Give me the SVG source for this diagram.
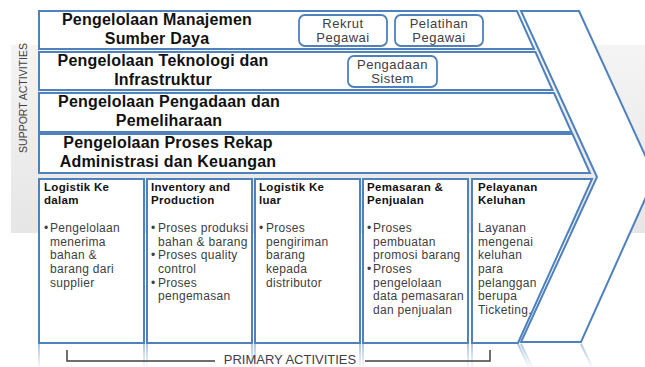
<svg xmlns="http://www.w3.org/2000/svg" width="645" height="367" viewBox="0 0 645 367">
<defs>
<linearGradient id="bg" x1="0" y1="0" x2="0" y2="1">
<stop offset="0" stop-color="#f4f4f4"/>
<stop offset="1" stop-color="#e6e6e6"/>
</linearGradient>
<linearGradient id="refl" x1="0" y1="0" x2="0" y2="1">
<stop offset="0" stop-color="#4f81bd" stop-opacity="0.45"/>
<stop offset="1" stop-color="#4f81bd" stop-opacity="0.05"/>
</linearGradient>
<style>
.box{fill:#fff;stroke:#4f81bd;stroke-width:2}
.rbox{fill:#fff;stroke:#4f81bd;stroke-width:1.8}
.hd{font-family:"Liberation Sans",Arial,sans-serif;font-weight:bold;font-size:16px;letter-spacing:0.2px;fill:#111;text-anchor:middle}
.sm{font-family:"Liberation Sans",Arial,sans-serif;font-size:13px;letter-spacing:0.5px;fill:#404040;text-anchor:middle}
.ti{font-family:"Liberation Sans",Arial,sans-serif;font-weight:bold;font-size:11.5px;letter-spacing:0.3px;fill:#111}
.tx{font-family:"Liberation Sans",Arial,sans-serif;font-size:12px;letter-spacing:0.3px;fill:#404040}
.lbl{font-family:"Liberation Sans",Arial,sans-serif;font-size:13px;fill:#404040}
.vlbl{font-family:"Liberation Sans",Arial,sans-serif;font-size:10.5px;fill:#404040;text-anchor:middle}
.refl{fill:none;stroke:url(#refl);stroke-width:2}
</style>
</defs>
<rect width="645" height="367" fill="#fff"/>
<rect x="11" y="45" width="634" height="188" fill="url(#bg)"/>

<text class="vlbl" transform="translate(27,98) rotate(-90)">SUPPORT ACTIVITIES</text>

<g id="chevron-right">
<polygon points="521,11 579,11 655,177 581,342 521,342 597,177" fill="#fff" stroke="#4f81bd" stroke-width="2"/>
</g>

<g id="row-sdm">
<polygon class="box" points="39,11 517,11 534,49 39,49"/>
<text class="hd" x="157" y="25">Pengelolaan Manajemen</text>
<text class="hd" x="157" y="44">Sumber Daya</text>
</g>
<g id="rekrut">
<rect class="rbox" x="299" y="15" width="88" height="31" rx="6"/>
<text class="sm" x="343" y="28">Rekrut</text>
<text class="sm" x="343" y="42">Pegawai</text>
</g>
<g id="pelatihan">
<rect class="rbox" x="395" y="15" width="88" height="31" rx="6"/>
<text class="sm" x="439" y="28">Pelatihan</text>
<text class="sm" x="439" y="42">Pegawai</text>
</g>

<g id="row-teknologi">
<polygon class="box" points="39,52 535.5,52 552.5,90 39,90"/>
<text class="hd" x="163" y="66">Pengelolaan Teknologi dan</text>
<text class="hd" x="163" y="85">Infrastruktur</text>
</g>
<g id="pengadaan-sistem">
<rect class="rbox" x="348" y="56" width="89" height="31" rx="6"/>
<text class="sm" x="392.5" y="69">Pengadaan</text>
<text class="sm" x="392.5" y="83">Sistem</text>
</g>

<g id="row-pengadaan">
<polygon class="box" points="39,93 554,93 571.5,132 39,132"/>
<text class="hd" x="169" y="107">Pengelolaan Pengadaan dan</text>
<text class="hd" x="169" y="126">Pemeliharaan</text>
</g>

<g id="row-administrasi">
<polygon class="box" points="39,134 572.5,134 590,173 39,173"/>
<text class="hd" x="168" y="148">Pengelolaan Proses Rekap</text>
<text class="hd" x="168" y="167">Administrasi dan Keuangan</text>
</g>

<g id="logistik-dalam">
<rect class="box" x="39" y="179" width="105" height="164"/>
<text class="ti" x="44" y="191">Logistik Ke</text>
<text class="ti" x="44" y="204">dalam</text>
<text class="tx" x="44" y="232">•</text>
<text class="tx" x="50" y="232">Pengelolaan</text>
<text class="tx" x="50" y="245.7">menerima</text>
<text class="tx" x="50" y="259.3">bahan &amp;</text>
<text class="tx" x="50" y="273">barang dari</text>
<text class="tx" x="50" y="286.7">supplier</text>
</g>

<g id="inventory-production">
<rect class="box" x="147" y="179" width="105" height="164"/>
<text class="ti" x="151" y="191">Inventory and</text>
<text class="ti" x="151" y="204">Production</text>
<text class="tx" x="151" y="232">•</text>
<text class="tx" x="158" y="232">Proses produksi</text>
<text class="tx" x="158" y="245.7">bahan &amp; barang</text>
<text class="tx" x="151" y="259.3">•</text>
<text class="tx" x="158" y="259.3">Proses quality</text>
<text class="tx" x="158" y="273">control</text>
<text class="tx" x="151" y="286.7">•</text>
<text class="tx" x="158" y="286.7">Proses</text>
<text class="tx" x="158" y="300.3">pengemasan</text>
</g>

<g id="logistik-luar">
<rect class="box" x="255" y="179" width="105" height="164"/>
<text class="ti" x="259" y="191">Logistik Ke</text>
<text class="ti" x="259" y="204">luar</text>
<text class="tx" x="259" y="232">•</text>
<text class="tx" x="266" y="232">Proses</text>
<text class="tx" x="266" y="245.7">pengiriman</text>
<text class="tx" x="266" y="259.3">barang</text>
<text class="tx" x="266" y="273">kepada</text>
<text class="tx" x="266" y="286.7">distributor</text>
</g>

<g id="pemasaran-penjualan">
<rect class="box" x="363" y="179" width="105" height="164"/>
<text class="ti" x="367" y="191">Pemasaran &amp;</text>
<text class="ti" x="367" y="204">Penjualan</text>
<text class="tx" x="367" y="232">•</text>
<text class="tx" x="373" y="232">Proses</text>
<text class="tx" x="373" y="245.7">pembuatan</text>
<text class="tx" x="373" y="259.3">promosi barang</text>
<text class="tx" x="367" y="273">•</text>
<text class="tx" x="373" y="273">Proses</text>
<text class="tx" x="373" y="286.7">pengelolaan</text>
<text class="tx" x="373" y="300.3">data pemasaran</text>
<text class="tx" x="373" y="314">dan penjualan</text>
</g>

<g id="pelayanan-keluhan">
<polygon class="box" points="472,179 592,179 518,343 472,343"/>
<text class="ti" x="478" y="191">Pelayanan</text>
<text class="ti" x="478" y="204">Keluhan</text>
<text class="tx" x="478" y="232">Layanan</text>
<text class="tx" x="478" y="245.7">mengenai</text>
<text class="tx" x="478" y="259.3">keluhan</text>
<text class="tx" x="478" y="273">para</text>
<text class="tx" x="478" y="286.7">pelanggan</text>
<text class="tx" x="478" y="300.3">berupa</text>
<text class="tx" x="478" y="314">Ticketing.</text>
</g>

<g id="reflection">
<path class="refl" d="M39,344V367M144,344V367M147,344V367M252,344V367M255,344V367M360,344V367M363,344V367M468,344V367M472,344V367M518,344L529,367M521,344L532,367M581,344L592,367"/>
</g>

<g id="connectors">
<path d="M67,350V361H215M365,361H490V350" fill="none" stroke="#404040" stroke-width="1.5"/>
</g>
<text class="lbl" x="290" y="364" text-anchor="middle">PRIMARY ACTIVITIES</text>
</svg>
